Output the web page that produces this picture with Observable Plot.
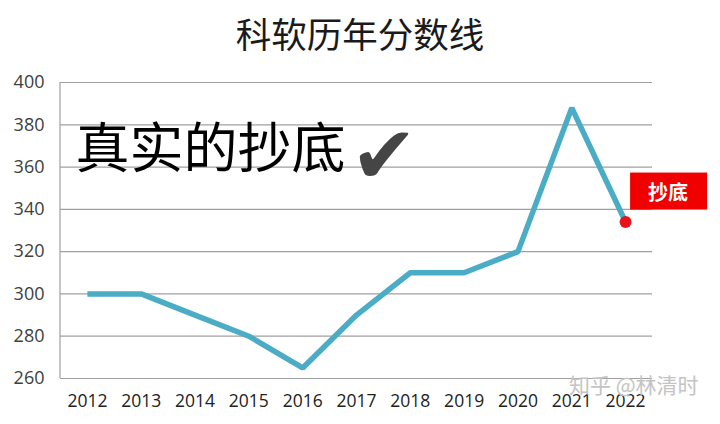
<!DOCTYPE html>
<html><head><meta charset="utf-8">
<script src="https://cdn.jsdelivr.net/npm/d3@7"></script>
<script src="https://cdn.jsdelivr.net/npm/@observablehq/plot@0.6"></script>
<style>
body{margin:0;background:#fff;width:720px;height:424px;overflow:hidden}
#title{height:65px;line-height:65px;text-align:center;font-family:"Noto Sans CJK SC",sans-serif;font-size:35.5px;color:#1a1a1a}
svg{display:block}
</style></head><body>
<div id="title">科软历年分数线</div>
<div id="chart"></div>
<script>
const years = ["2012","2013","2014","2015","2016","2017","2018","2019","2020","2021","2022"];
const scores = [300,300,290,280,265,290,310,310,320,388,334];
const yTicks = [260,280,300,320,340,360,380,400];
const annotation = "真实的抄底";
const check = "✔";
const badge = "抄底";
const watermark = "知乎 @林清时";

const data = years.map((y,i)=>({year:y, score:scores[i]}));
const last = data[data.length-1];

const plot = Plot.plot({
  width:720, height:359,
  marginTop:17, marginBottom:46, marginLeft:60, marginRight:68,
  x:{type:"point", domain:years, padding:0.5, round:false, label:null},
  y:{domain:[260,400], label:null},
  marks:[
    Plot.ruleY(yTicks,{stroke:"#a0a0a0", strokeWidth:1.2}),
    Plot.axisY({ticks:yTicks, tickSize:0, tickPadding:16, fontSize:18, fill:"#404040", fontFamily:"Open Sans", label:null}),
    Plot.axisX({tickSize:0, tickPadding:16, fontSize:17.5, fill:"#222", fontFamily:"Open Sans", label:null}),
    Plot.line(data,{x:"year", y:"score", stroke:"#4bacc6", strokeWidth:5.5, strokeLinejoin:"miter", strokeLinecap:"butt"}),
    Plot.dot([last],{x:"year", y:"score", r:6, fill:"#e8141b"}),
    Plot.text([annotation],{frameAnchor:"top-left", text:d=>d, dx:15, dy:47, fontSize:54, fill:"#000", textAnchor:"start", lineAnchor:"top", fontFamily:"Noto Sans CJK SC"}),
    Plot.text([check],{frameAnchor:"top-left", text:d=>d, dx:290, dy:75, fontSize:80, fill:"#454545", textAnchor:"start", lineAnchor:"middle", fontFamily:"DejaVu Sans"}),
    Plot.text([watermark],{frameAnchor:"bottom-right", text:d=>d, dx:46, dy:14, fontSize:21, fill:"#c4c4c4", textAnchor:"end", fontFamily:"Noto Sans CJK SC"})
  ]
});
document.getElementById("chart").appendChild(plot);

const svg = d3.select(plot);
const xs = plot.scale("x"), ys = plot.scale("y");
const px = xs.apply(last.year), py = ys.apply(last.score);
// left axis line
svg.append("line").attr("x1",60).attr("x2",60).attr("y1",ys.apply(400)).attr("y2",ys.apply(260)).attr("stroke","#a0a0a0").attr("stroke-width",1.2);
// badge
const g = svg.append("g");
g.append("rect").attr("x",px+5).attr("y",py-49).attr("width",77).attr("height",37).attr("fill","#f00000");
g.append("text").attr("x",px+43).attr("y",py-30).attr("text-anchor","middle").attr("dominant-baseline","central")
  .attr("fill","#fff").attr("font-size",20).attr("font-weight","bold").attr("font-family","Noto Sans CJK SC").text(badge);
</script>
</body></html>
